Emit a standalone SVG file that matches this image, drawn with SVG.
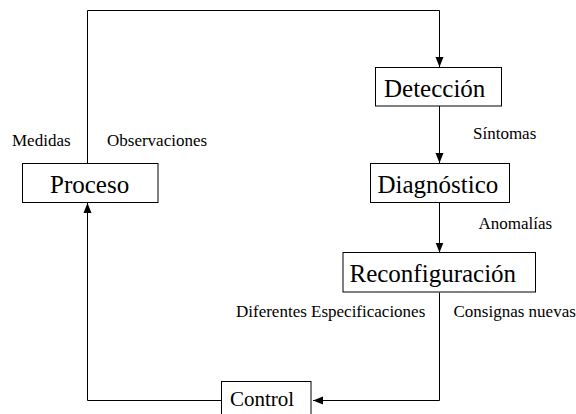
<svg xmlns="http://www.w3.org/2000/svg" width="576" height="414" viewBox="0 0 576 414">
<style>
.box{fill:#fff;stroke:#000;stroke-width:1}
.big{font-family:"Liberation Serif","Times New Roman",serif;font-size:25px;fill:#000}
.lbl{font-family:"Liberation Serif","Times New Roman",serif;font-size:17px;fill:#000}
.ln{fill:none;stroke:#000;stroke-width:1}
</style>
<defs>
<marker id="arr" markerUnits="userSpaceOnUse" markerWidth="10" markerHeight="10" viewBox="0 0 10 10" refX="10" refY="5" orient="auto">
<path d="M0,1 L10,5 L0,9 Z" fill="#000"/>
</marker>
</defs>
<rect width="576" height="414" fill="#fff"/>
<g id="connectors">
<path class="ln" d="M87.5,163.5 V10.5 H439.5 V67" marker-end="url(#arr)"/>
<path class="ln" d="M439.5,106 V163" marker-end="url(#arr)"/>
<path class="ln" d="M439.5,203 V252.5" marker-end="url(#arr)"/>
<path class="ln" d="M439.5,292.5 V400.5 H313" marker-end="url(#arr)"/>
<path class="ln" d="M221.5,400.5 H87.5 V203" marker-end="url(#arr)"/>
</g>
<g id="labels">
<text class="lbl" x="12" y="146">Medidas</text>
<text class="lbl" x="107" y="146">Observaciones</text>
<text class="lbl" x="473" y="139">Síntomas</text>
<text class="lbl" x="478.5" y="228.5">Anomalías</text>
<text class="lbl" x="236" y="316.5">Diferentes Especificaciones</text>
<text class="lbl" x="453.5" y="316.5">Consignas nuevas</text>
</g>
<g id="proceso">
<rect class="box" x="22.5" y="163.5" width="135.5" height="39"/>
<text class="big" x="50" y="193">Proceso</text>
</g>
<g id="deteccion">
<rect class="box" x="375.5" y="67.5" width="126" height="38.5"/>
<text class="big" x="384" y="96.5">Detección</text>
</g>
<g id="diagnostico">
<rect class="box" x="370.5" y="163.5" width="139" height="39"/>
<text class="big" x="377.5" y="192.5">Diagnóstico</text>
</g>
<g id="reconfiguracion">
<rect class="box" x="343" y="252.5" width="192.5" height="39.5"/>
<text class="big" x="349.5" y="281.5">Reconfiguración</text>
</g>
<g id="control">
<rect class="box" x="221.5" y="381.5" width="89.5" height="40"/>
<text class="big" x="230" y="405.5" style="font-size:21px">Control</text>
</g>
</svg>
